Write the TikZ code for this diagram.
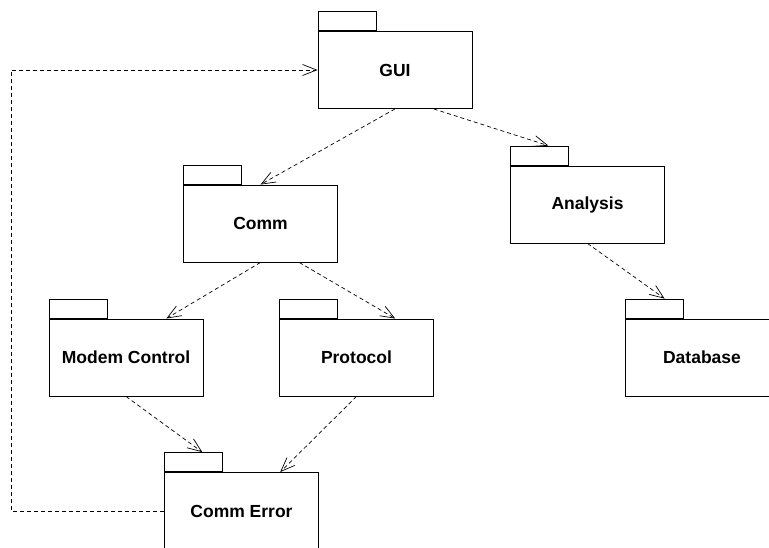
\documentclass[tikz,border=0pt]{standalone}
\usepackage{fontspec}
\setmainfont{Liberation Sans}
\usetikzlibrary{arrows.meta}
\usetikzlibrary{calc}
\tikzset{>={Straight Barb[length=14pt,width=11pt]}}
\tikzset{
  pkg/.style={draw, line width=0.9pt, minimum width=154pt, minimum height=77pt,
    inner sep=0pt, font=\fontsize{17.5}{20}\selectfont\bfseries},
  pkgtab/.style={draw, line width=0.9pt, minimum width=58pt, minimum height=19pt,
    inner sep=0pt, anchor=south west},
  dep/.style={->, dash pattern=on 4pt off 3pt, line width=0.7pt}
}

\begin{document}
\begin{tikzpicture}[x=1pt,y=-1pt]

  \useasboundingbox (0,0) rectangle (769,548); %% page size

  %% packages
  \node[pkg] (gui)       at (395,70)      {GUI};
  \node[pkg] (comm)      at (260.5,223.5) {Comm};
  \node[pkg] (analysis)  at (587.5,204.5) {Analysis};
  \node[pkg] (modem)     at (126,357.5)   {Modem Control};
  \node[pkg] (protocol)  at (356.5,357.5) {Protocol};
  \node[pkg] (database)  at (702,357.5)   {Database};
  \node[pkg] (commerror) at (241.5,511)   {Comm Error};

  \node[pkgtab] (guitab)       at (gui.north west)       {};
  \node[pkgtab] (commtab)      at (comm.north west)      {};
  \node[pkgtab] (analysistab)  at (analysis.north west)  {};
  \node[pkgtab] (modemtab)     at (modem.north west)     {};
  \node[pkgtab] (protocoltab)  at (protocol.north west)  {};
  \node[pkgtab] (databasetab)  at (database.north west)  {};
  \node[pkgtab] (commerrortab) at (commerror.north west) {};

  %% dependencies
  \draw[dep] (gui.south) -- (comm.north);
  \draw[dep] ($(gui.south west)!0.75!(gui.south east)$) --
    ($(analysistab.north west)!0.65!(analysistab.north east)$);
  \draw[dep] (analysis.south) --
    ($(databasetab.north west)!0.68!(databasetab.north east)$);
  \draw[dep] (comm.south) -- ($(modem.north west)!0.76!(modem.north east)$);
  \draw[dep] ($(comm.south west)!0.75!(comm.south east)$) --
    ($(protocol.north west)!0.75!(protocol.north east)$);
  \draw[dep] (modem.south) --
    ($(commerrortab.north west)!0.65!(commerrortab.north east)$);
  \draw[dep] (protocol.south) --
    ($(commerror.north west)!0.75!(commerror.north east)$);

  \coordinate (back) at (11,0);
  \draw[dep] (commerror.west) -- (commerror.west -| back) |- (gui.west);

\end{tikzpicture}
\end{document}
